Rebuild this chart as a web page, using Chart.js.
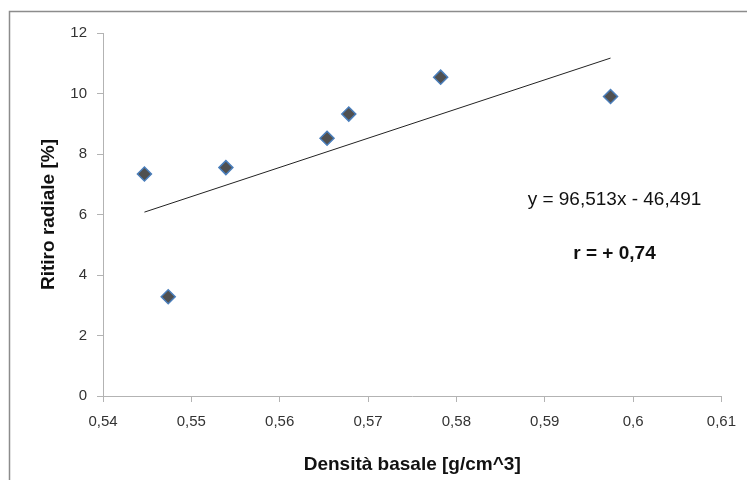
<!DOCTYPE html>
<html><head><meta charset="utf-8">
<script src="https://cdn.jsdelivr.net/npm/chart.js@4"></script>
<style>html,body{margin:0;padding:0;background:#fff}#wrap{width:747px;height:480px;position:relative}</style>
</head><body><div id="wrap"><canvas id="c" width="747" height="480"></canvas></div>
<script>
const densita = [0.54469, 0.54738, 0.55391, 0.56536, 0.56782, 0.57822, 0.59745];
const ritiro = [7.34, 3.28, 7.55, 8.52, 9.32, 10.54, 9.90];
const trendSlope = 96.513;
const trendIntercept = -46.491;
const xTicks = [0.54, 0.55, 0.56, 0.57, 0.58, 0.59, 0.60, 0.61];
const xTickLabels = ['0,54', '0,55', '0,56', '0,57', '0,58', '0,59', '0,6', '0,61'];
const yTicks = [0, 2, 4, 6, 8, 10, 12];
const yTickLabels = ['0', '2', '4', '6', '8', '10', '12'];
const equationText = 'y = 96,513x - 46,491';
const rText = 'r = + 0,74';

const FONT = "'Liberation Sans', Arial, sans-serif";
const points = densita.map((x, i) => ({x, y: ritiro[i]}));
const xMin = Math.min(...densita), xMax = Math.max(...densita);
const trend = [xMin, xMax].map(x => ({x, y: trendSlope * x + trendIntercept}));

const framePlugin = {
  id: 'frame',
  beforeDraw(chart) {
    const ctx = chart.ctx;
    ctx.save();
    ctx.strokeStyle = '#8c8c8c';
    ctx.lineWidth = 1.5;
    ctx.strokeRect(9.5, 11.5, 760, 500);
    ctx.restore();
  },
  afterDraw(chart) {
    const ctx = chart.ctx;
    const xs = chart.scales.x, ys = chart.scales.y;
    ctx.save();
    ctx.fillStyle = '#111';
    ctx.textAlign = 'center';
    ctx.textBaseline = 'middle';
    ctx.font = "19px " + FONT;
    ctx.fillText(equationText, xs.getPixelForValue(0.5979), ys.getPixelForValue(6.48));
    ctx.font = "bold 19px " + FONT;
    ctx.fillText(rText, xs.getPixelForValue(0.5979), ys.getPixelForValue(4.69));
    ctx.restore();
  }
};

new Chart(document.getElementById('c'), {
  type: 'scatter',
  data: {
    datasets: [
      {
        label: 'dati',
        data: points,
        pointStyle: 'rectRot',
        pointRadius: 7,
        pointHoverRadius: 7,
        pointBackgroundColor: '#505050',
        pointBorderColor: '#4a7ebb',
        pointBorderWidth: 1.5,
        showLine: false
      },
      {
        label: 'trend',
        data: trend,
        type: 'line',
        showLine: true,
        borderColor: '#222',
        borderWidth: 1,
        pointRadius: 0,
        fill: false
      }
    ]
  },
  options: {
    responsive: false,
    animation: false,
    layout: {padding: {left: 0, right: 25, top: 33, bottom: 0}},
    plugins: {legend: {display: false}, tooltip: {enabled: false}},
    scales: {
      x: {
        type: 'linear',
        min: 0.54, max: 0.61,
        afterBuildTicks: s => { s.ticks = xTicks.map(v => ({value: v})); },
        afterFit: s => { s.height = 84; },
        ticks: {
          callback: (v, i) => xTickLabels[i],
          color: '#333',
          font: {family: FONT, size: 15},
          padding: 11,
          maxRotation: 0
        },
        grid: {drawOnChartArea: false, tickLength: 6, color: '#b3b3b3'},
        border: {color: '#b3b3b3', width: 1},
        title: {
          display: true,
          text: 'Densità basale [g/cm^3]',
          color: '#111',
          font: {family: FONT, size: 19, weight: 'bold'},
          padding: {top: 19}
        }
      },
      y: {
        min: 0, max: 12,
        afterBuildTicks: s => { s.ticks = yTicks.map(v => ({value: v})); },
        afterFit: s => { s.width = 103; },
        ticks: {
          callback: (v, i) => yTickLabels[i],
          color: '#333',
          font: {family: FONT, size: 15},
          padding: 10
        },
        grid: {drawOnChartArea: false, tickLength: 6, color: '#b3b3b3'},
        border: {color: '#b3b3b3', width: 1},
        title: {
          display: true,
          text: 'Ritiro radiale [%]',
          color: '#111',
          font: {family: FONT, size: 19, weight: 'bold'},
          padding: {top: 37, bottom: 0}
        }
      }
    }
  },
  plugins: [framePlugin]
});
</script></body></html>
